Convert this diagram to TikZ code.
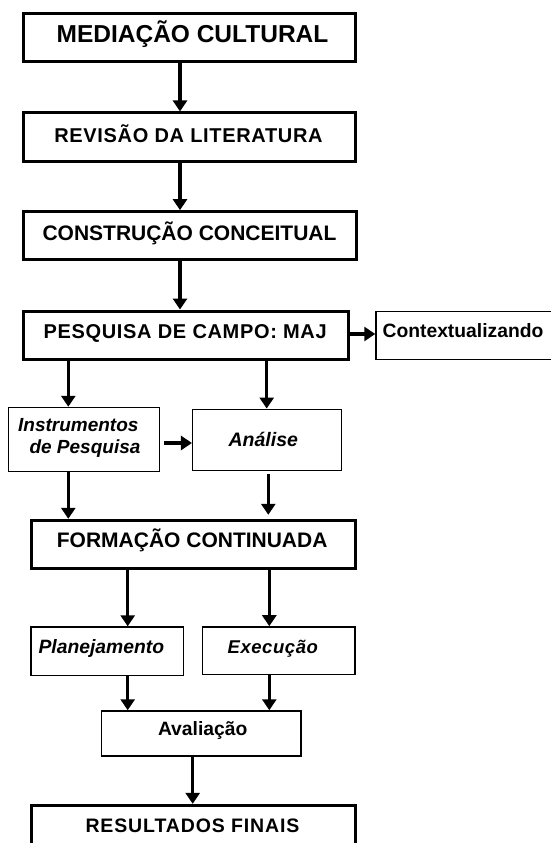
\documentclass[tikz,border=0pt]{standalone}
\usepackage{fontspec}
\setmainfont{Liberation Sans}
\usetikzlibrary{arrows.meta}
\tikzset{
  thickbox/.style={draw=black, line width=3pt, inner sep=0pt},
  thinbox/.style={draw=black, line width=1.5pt, inner sep=0pt},
  lbl/.style={inner sep=0pt, text depth=0pt, text=black},
  arr/.style={draw=black, line width=3.5pt, -{Triangle[width=14pt,length=11pt]}},
}
\newcommand{\fsz}[1]{\fontsize{#1}{#1}\selectfont\bfseries}
\newcommand{\fszi}[1]{\fontsize{#1}{#1}\selectfont\bfseries\itshape}
\newcommand{\lsp}[1]{\addfontfeatures{LetterSpace=#1}}
\begin{document}
\begin{tikzpicture}[x=1pt,y=-1pt]
\fill[white] (0,0) rectangle (551,843);
\clip (0,0) rectangle (551,843);
\useasboundingbox (0,0) rectangle (551,843);

% main boxes
\node[thickbox, minimum width=331.7pt, minimum height=47.7pt,
  label={[lbl, font=\fsz{24.5}, text height=17.5pt, xshift=3.3pt, yshift=3.2pt]center:MEDIAÇÃO CULTURAL}]
  (b1) at (189.2,37.2) {};
\node[thickbox, minimum width=331.7pt, minimum height=48.7pt,
  label={[lbl, font=\fsz{20}\lsp{3.3}, text height=14.3pt, xshift=-0.7pt, yshift=2.3pt]center:REVISÃO DA LITERATURA}]
  (b2) at (189.2,137.3) {};
\node[thickbox, minimum width=332.7pt, minimum height=48.3pt,
  label={[lbl, font=\fsz{21}, text height=15pt, xshift=-0.2pt, yshift=3.3pt]center:CONSTRUÇÃO CONCEITUAL}]
  (b3) at (189.7,235.8) {};
\node[thickbox, minimum width=324.7pt, minimum height=48.3pt,
  label={[lbl, font=\fsz{20}\lsp{3.3}, text height=14.3pt, xshift=-0.5pt, yshift=4.2pt]center:PESQUISA DE CAMPO: MAJ}]
  (b4) at (185.7,335.2) {};
\node[thinbox, minimum width=224pt, minimum height=47.6pt,
  label={[lbl, font=\fsz{19.3}, text height=13.8pt, xshift=-25pt, yshift=4.5pt]center:Contextualizando}]
  (ctx) at (488,335.5) {};

\node[thinbox, minimum width=151pt, minimum height=63.8pt,
  label={[lbl, font=\fszi{19}, text height=13.6pt, xshift=-5.5pt, yshift=14.9pt]center:Instrumentos},
  label={[lbl, font=\fszi{19}, text height=13.6pt, xshift=1.2pt, yshift=-7.6pt]center:de Pesquisa}]
  (ins) at (83.8,439.4) {};
\node[thinbox, minimum width=149pt, minimum height=61pt,
  label={[lbl, font=\fszi{19.5}, text height=14pt, xshift=-3.9pt, yshift=0.8pt]center:Análise}]
  (ana) at (267.2,439.8) {};

\node[thickbox, minimum width=324.3pt, minimum height=48.4pt,
  label={[lbl, font=\fsz{21}, text height=15pt, xshift=-1.6pt, yshift=4.3pt]center:FORMAÇÃO CONTINUADA}]
  (b5) at (193.8,544.5) {};

\node[thinbox, minimum width=152.3pt, minimum height=48.3pt,
  label={[lbl, font=\fszi{19.3}, text height=14pt, xshift=-5.9pt, yshift=4.9pt]center:Planejamento}]
  (plan) at (107.2,651.2) {};
\node[thinbox, minimum width=152.3pt, minimum height=47.7pt,
  label={[lbl, font=\fszi{18.5}\lsp{3}, text height=13.5pt, xshift=-6pt, yshift=4.5pt]center:Execução}]
  (exe) at (278.8,650.8) {};
\node[thinbox, minimum width=199.3pt, minimum height=45pt,
  label={[lbl, font=\fsz{19.3}, text height=13.8pt, xshift=1.4pt, yshift=4.5pt]center:Avaliação}]
  (ava) at (201.3,733.5) {};

\node[thickbox, minimum width=324.3pt, minimum height=48.3pt,
  label={[lbl, font=\fsz{19.5}\lsp{4.5}, text height=14pt, xshift=-1.3pt, yshift=4.2pt]center:RESULTADOS FINAIS}]
  (b6) at (193.8,829.5) {};

% connectors
\draw[arr] (b1.south -| 180,0) -- (b2.north -| 180,0);
\draw[arr] (b2.south -| 180,0) -- (b3.north -| 180,0);
\draw[arr] (b3.south -| 180,0) -- (b4.north -| 180,0);
\draw[arr] (b4.east |- 0,334) -- (ctx.west |- 0,334);
\draw[arr] (b4.south -| 68.3,0) -- (ins.north -| 68.3,0);
\draw[arr] (b4.south -| 266.7,0) -- (ana.north -| 266.7,0);
\draw[arr, shorten <=4pt] (ins.east |- 0,443) -- (ana.west |- 0,443);
\draw[arr] (ins.south -| 68.3,0) -- (b5.north -| 68.3,0);
\draw[arr, shorten <=3pt, shorten >=4pt] (ana.south -| 268.3,0) -- (b5.north -| 268.3,0);
\draw[arr] (b5.south -| 127.7,0) -- (plan.north -| 127.7,0);
\draw[arr] (b5.south -| 269.3,0) -- (exe.north -| 269.3,0);
\draw[arr] (plan.south -| 127.7,0) -- (ava.north -| 127.7,0);
\draw[arr] (exe.south -| 269.3,0) -- (ava.north -| 269.3,0);
\draw[arr] (ava.south -| 192.7,0) -- (b6.north -| 192.7,0);
\end{tikzpicture}
\end{document}
